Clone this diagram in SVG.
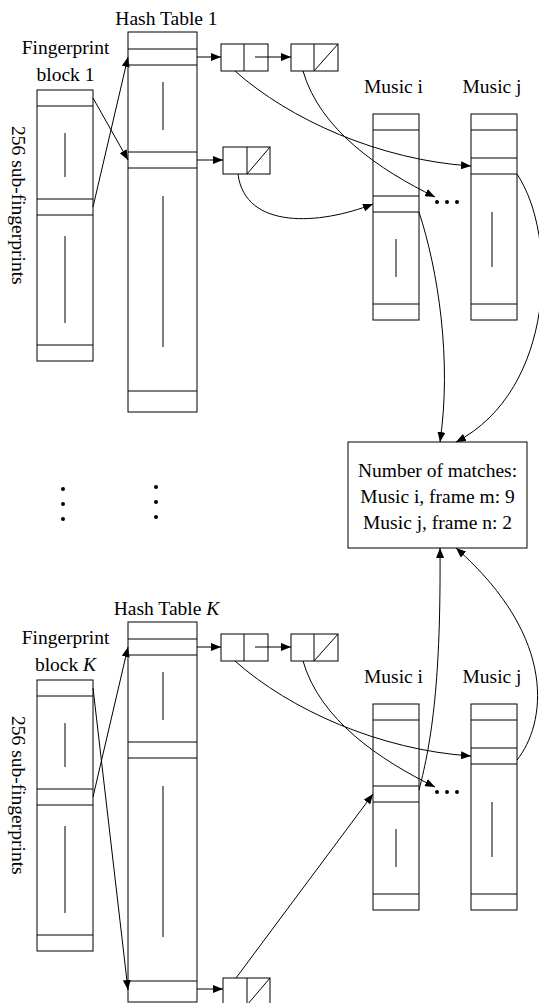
<svg xmlns="http://www.w3.org/2000/svg" width="539" height="1003" viewBox="0 0 539 1003">
<style>
.s{fill:none;stroke:#000;stroke-width:1}
.b{fill:#fff;stroke:#000;stroke-width:1}
.t{font-family:"Liberation Serif","Times New Roman",serif;font-size:19.5px;fill:#000}
.c{text-anchor:middle}
.a{fill:none;stroke:#000;stroke-width:1;marker-end:url(#ah)}
</style>
<defs>
<marker id="ah" viewBox="0 0 10 8" refX="10" refY="4" markerWidth="10" markerHeight="8" orient="auto" markerUnits="userSpaceOnUse"><path d="M0,0 L10,4 L0,8 z" fill="#000"/></marker>
</defs>
<rect width="539" height="1003" fill="#fff"/>

<!-- ===== Section 1 ===== -->
<g id="fp1">
<text class="t c" x="65.5" y="54">Fingerprint</text>
<text class="t c" x="65.5" y="81">block 1</text>
<text class="t" transform="translate(12,126) rotate(90)">256 sub-fingerprints</text>
<rect class="b" x="37" y="90" width="56" height="271"/>
<path class="s" d="M37,106H93M37,199H93M37,215H93M37,345H93M65,133V177M65,236V323"/>
</g>
<g id="ht1">
<text class="t c" x="166.5" y="25">Hash Table 1</text>
<rect class="b" x="128" y="32" width="69" height="380"/>
<path class="s" d="M128,49H197M128,65H197M128,152H197M128,168H197M128,391H197M163,82V130M163,196V347"/>
</g>
<g id="n1a">
<rect class="b" x="221" y="44" width="47" height="27"/>
<path class="s" d="M244,44V71"/>
</g>
<g id="n1b">
<rect class="b" x="291" y="44" width="47" height="27"/>
<path class="s" d="M314,44V71M314,71L338,44"/>
</g>
<g id="n1c">
<rect class="b" x="223" y="147" width="47" height="27"/>
<path class="s" d="M247,147V174M247,174L270,147"/>
</g>
<g id="mi1">
<text class="t c" x="393.5" y="93">Music i</text>
<rect class="b" x="373" y="114" width="46" height="206"/>
<path class="s" d="M373,130H419M373,196H419M373,212H419M373,304H419M396,239V277"/>
</g>
<g id="mj1">
<text class="t c" x="492" y="93">Music j</text>
<rect class="b" x="471" y="114" width="46" height="206"/>
<path class="s" d="M471,130H517M471,158H517M471,174H517M471,304H517M492,212V267"/>
</g>
<g id="dots1" fill="#000">
<circle cx="437" cy="202" r="2"/><circle cx="447" cy="202" r="2"/><circle cx="457" cy="202" r="2"/>
</g>

<!-- ===== Result box ===== -->
<g id="result">
<rect class="b" x="348" y="442" width="179" height="106"/>
<text class="t c" x="437.5" y="477">Number of matches:</text>
<text class="t c" x="437.5" y="503">Music i, frame m: 9</text>
<text class="t c" x="437.5" y="529">Music j, frame n: 2</text>
</g>

<g id="vdots" fill="#000">
<circle cx="63" cy="489" r="2"/><circle cx="63" cy="504" r="2"/><circle cx="63" cy="519" r="2"/>
<circle cx="156" cy="487" r="2"/><circle cx="156" cy="502" r="2"/><circle cx="156" cy="517" r="2"/>
</g>

<!-- ===== Section K ===== -->
<g id="fpK">
<text class="t c" x="65.5" y="644">Fingerprint</text>
<text class="t c" x="65.5" y="671">block <tspan font-style="italic">K</tspan></text>
<text class="t" transform="translate(12,716) rotate(90)">256 sub-fingerprints</text>
<rect class="b" x="37" y="680" width="56" height="271"/>
<path class="s" d="M37,696H93M37,789H93M37,805H93M37,935H93M65,723V767M65,826V913"/>
</g>
<g id="htK">
<text class="t c" x="166.5" y="615">Hash Table <tspan font-style="italic">K</tspan></text>
<rect class="b" x="128" y="622" width="69" height="380"/>
<path class="s" d="M128,639H197M128,655H197M128,742H197M128,758H197M128,981H197M163,672V720M163,786V937"/>
</g>
<g id="nKa">
<rect class="b" x="221" y="634" width="47" height="27"/>
<path class="s" d="M244,634V661"/>
</g>
<g id="nKb">
<rect class="b" x="291" y="634" width="47" height="27"/>
<path class="s" d="M314,634V661M314,661L338,634"/>
</g>
<g id="nKc">
<rect class="b" x="223" y="978" width="47" height="27"/>
<path class="s" d="M247,978V1005M247,1005L270,978"/>
</g>
<g id="miK">
<text class="t c" x="393.5" y="683">Music i</text>
<rect class="b" x="373" y="704" width="46" height="206"/>
<path class="s" d="M373,720H419M373,786H419M373,802H419M373,894H419M396,829V867"/>
</g>
<g id="mjK">
<text class="t c" x="492" y="683">Music j</text>
<rect class="b" x="471" y="704" width="46" height="206"/>
<path class="s" d="M471,720H517M471,748H517M471,764H517M471,894H517M492,802V857"/>
</g>
<g id="dotsK" fill="#000">
<circle cx="437" cy="792" r="2"/><circle cx="447" cy="792" r="2"/><circle cx="457" cy="792" r="2"/>
</g>

<!-- ===== Connectors ===== -->
<g id="connectors">
<path class="a" d="M93,98L128,160"/>
<path class="a" d="M93,207L128,57"/>
<path class="a" d="M197,57H221"/>
<path class="a" d="M255,57H291"/>
<path class="a" d="M197,160H223"/>
<path class="a" d="M235,71C290,120 380,160 471,166"/>
<path class="a" d="M303,71C320,130 380,170 435,197"/>
<path class="a" d="M238,174C245,230 320,225 373,204"/>
<path class="a" d="M419,212C438,270 452,360 440,442"/>
<path class="a" d="M517,174C558,235 556,390 456,442"/>

<path class="a" d="M93,688L128,990"/>
<path class="a" d="M93,797L128,647"/>
<path class="a" d="M197,647H221"/>
<path class="a" d="M255,647H291"/>
<path class="a" d="M197,989H223"/>
<path class="a" d="M235,661C290,710 380,750 471,756"/>
<path class="a" d="M303,661C320,720 380,760 435,787"/>
<path class="a" d="M236,978L373,794"/>
<path class="a" d="M419,790C432,740 441,680 440,548"/>
<path class="a" d="M517,760C545,725 560,640 456,548"/>
</g>
</svg>
